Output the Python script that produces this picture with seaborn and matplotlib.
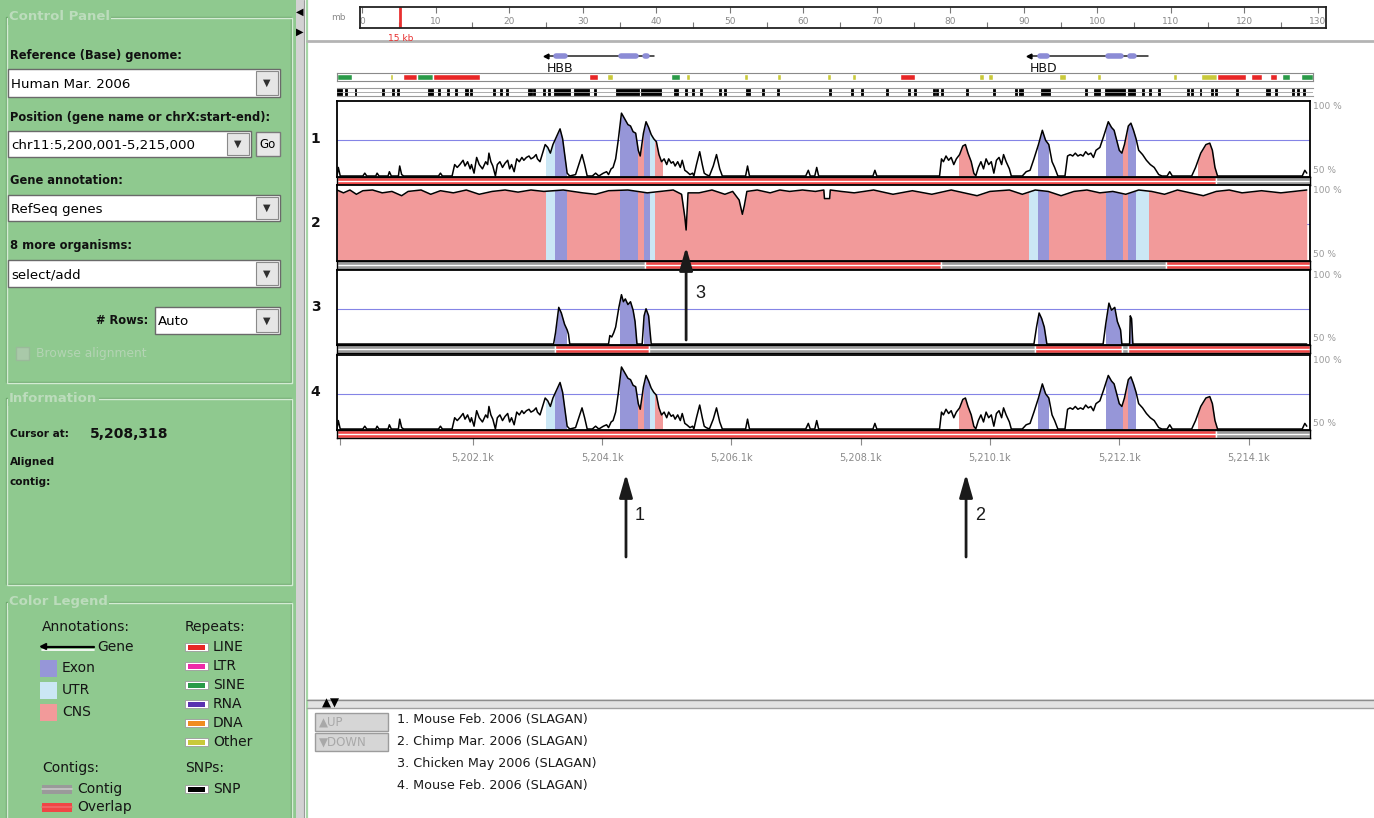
import matplotlib
matplotlib.use("Agg")
import matplotlib.pyplot as plt
from matplotlib.patches import Rectangle
from matplotlib.transforms import blended_transform_factory
import seaborn as sns

# ---------------- data (positions in kb on chr11) ----------------
X0, X1 = 5200.0, 5215.05

# mouse (tracks 1 and 4), % identity in a sliding window
mouse_kb = [5200.00, 5200.02, 5200.05, 5200.40, 5200.43, 5200.46, 5200.60, 5200.62,
            5200.65, 5200.79, 5200.81, 5200.84, 5200.95, 5200.97, 5201.00, 5201.03,
            5201.57, 5201.60, 5201.63, 5201.78, 5201.82, 5201.86, 5201.90, 5201.95,
            5201.98, 5202.02, 5202.06, 5202.08, 5202.12, 5202.16, 5202.20, 5202.25,
            5202.30, 5202.33, 5202.35, 5202.38, 5202.41, 5202.45, 5202.48, 5202.52,
            5202.56, 5202.60, 5202.64, 5202.67, 5202.70, 5202.74, 5202.78, 5202.82,
            5202.86, 5202.89, 5202.93, 5202.97, 5203.00, 5203.04, 5203.08, 5203.10,
            5203.14, 5203.18, 5203.22, 5203.26, 5203.30, 5203.34, 5203.40, 5203.45,
            5203.49, 5203.53, 5203.56, 5203.60, 5203.69, 5203.74, 5203.79, 5203.83,
            5203.87, 5203.95, 5204.00, 5204.05, 5204.12, 5204.17, 5204.20, 5204.24,
            5204.27, 5204.31, 5204.35, 5204.40, 5204.45, 5204.50, 5204.54, 5204.58,
            5204.62, 5204.66, 5204.69, 5204.74, 5204.78, 5204.82, 5204.86, 5204.90,
            5204.94, 5204.98, 5205.02, 5205.06, 5205.10, 5205.13, 5205.17, 5205.20,
            5205.23, 5205.27, 5205.31, 5205.34, 5205.38, 5205.41, 5205.46, 5205.50,
            5205.52, 5205.56, 5205.61, 5205.65, 5205.68, 5205.71, 5205.76, 5205.82,
            5205.87, 5205.92, 5205.96, 5206.32, 5206.35, 5206.38, 5207.25, 5207.29,
            5207.32, 5207.39, 5207.42, 5207.45, 5208.29, 5208.32, 5208.35, 5209.32,
            5209.35, 5209.38, 5209.42, 5209.46, 5209.50, 5209.54, 5209.58, 5209.63,
            5209.68, 5209.72, 5209.76, 5209.81, 5209.85, 5209.88, 5209.92, 5209.96,
            5210.00, 5210.04, 5210.08, 5210.12, 5210.16, 5210.20, 5210.24, 5210.28,
            5210.31, 5210.35, 5210.40, 5210.43, 5210.60, 5210.66, 5210.72, 5210.78,
            5210.85, 5210.91, 5210.96, 5211.01, 5211.06, 5211.10, 5211.15, 5211.26,
            5211.30, 5211.34, 5211.38, 5211.42, 5211.46, 5211.50, 5211.54, 5211.58,
            5211.62, 5211.66, 5211.70, 5211.74, 5211.80, 5211.86, 5211.93, 5211.98,
            5212.02, 5212.06, 5212.10, 5212.14, 5212.18, 5212.24, 5212.28, 5212.32,
            5212.36, 5212.40, 5212.46, 5212.52, 5212.58, 5212.64, 5212.71, 5212.76,
            5212.84, 5212.88, 5212.92, 5213.22, 5213.28, 5213.36, 5213.44, 5213.50,
            5213.54, 5213.58, 5213.62, 5214.93, 5214.97, 5215.00]
mouse_pct = [50, 56, 50, 50, 52, 50, 50, 52,
             50, 50, 53, 50, 50, 57, 51, 50,
             50, 52, 50, 50, 58, 56, 58, 61,
             57, 60, 55, 58, 52, 63, 58, 55,
             60, 58, 66, 60, 57, 50, 58, 60,
             56, 59, 61, 55, 58, 53, 62, 60,
             63, 61, 63, 64, 62, 63, 65, 62,
             60, 66, 72, 70, 66, 72, 78, 83,
             76, 62, 52, 50, 51, 58, 65, 58,
             50, 50, 52, 50, 52, 53, 51, 55,
             56, 62, 75, 94, 90, 86, 85, 81,
             80, 68, 64, 80, 88, 84, 79, 76,
             74, 65, 60, 62, 58, 62, 59, 60,
             57, 60, 56, 61, 54, 53, 51, 52,
             50, 58, 67, 58, 52, 51, 50, 57,
             65, 55, 50, 50, 57, 50, 50, 54,
             50, 50, 56, 50, 50, 54, 50, 50,
             62, 60, 64, 61, 63, 58, 62, 65,
             71, 72, 66, 60, 52, 50, 56, 60,
             55, 62, 58, 60, 52, 61, 63, 58,
             65, 60, 55, 50, 50, 53, 54, 62,
             72, 82, 75, 72, 60, 56, 50, 50,
             64, 65, 64, 66, 64, 65, 64, 67,
             65, 66, 63, 68, 70, 78, 88, 84,
             82, 75, 68, 66, 72, 85, 87, 82,
             76, 68, 65, 61, 58, 56, 51, 50,
             50, 53, 50, 50, 56, 66, 72, 73,
             68, 56, 50, 50, 54, 52]

# chimp (track 2)
chimp_kb = [5200.00, 5200.10, 5200.20, 5200.30, 5200.40, 5200.55, 5200.70, 5200.85,
            5201.00, 5201.10, 5201.30, 5201.45, 5201.60, 5201.80, 5202.00, 5202.20,
            5202.40, 5202.60, 5202.80, 5203.00, 5203.20, 5203.50, 5203.80, 5204.00,
            5204.20, 5204.50, 5204.80, 5205.00, 5205.20, 5205.33, 5205.38, 5205.40,
            5205.43, 5205.60, 5205.80, 5206.00, 5206.12, 5206.22, 5206.27, 5206.30,
            5206.34, 5206.50, 5206.70, 5206.85, 5207.00, 5207.20, 5207.40, 5207.53,
            5207.54, 5207.62, 5207.63, 5207.80, 5208.00, 5208.30, 5208.60, 5208.90,
            5209.20, 5209.50, 5209.70, 5209.90, 5210.10, 5210.40, 5210.60, 5210.80,
            5211.00, 5211.20, 5211.40, 5211.60, 5211.80, 5212.00, 5212.20, 5212.40,
            5212.60, 5212.80, 5213.00, 5213.20, 5213.40, 5213.60, 5213.80, 5214.00,
            5214.30, 5214.60, 5215.00]
chimp_pct = [99, 97, 99, 96, 98.5, 99, 97, 98,
             95, 98, 99, 96, 98.5, 97, 99, 96,
             98, 99, 97.5, 99, 98, 99, 97, 96,
             98.5, 99, 97, 98, 99, 96, 80, 71,
             97, 97, 99, 96, 98, 92, 82, 88,
             98, 99, 97, 99, 98, 99, 98, 99,
             93, 93, 99, 98, 97, 99, 96, 98.5,
             96, 99, 97, 95, 98, 99, 96, 99,
             98, 95, 98, 99, 97, 98, 96, 99,
             98, 96, 99, 97, 95, 98, 99, 97,
             98.5, 97, 99]

# chicken (track 3)
chicken_kb = [5200.00, 5203.35, 5203.38, 5203.43, 5203.47, 5203.52, 5203.56, 5203.58,
              5203.60, 5204.20, 5204.22, 5204.25, 5204.28, 5204.31, 5204.36, 5204.40,
              5204.43, 5204.46, 5204.50, 5204.54, 5204.58, 5204.61, 5204.64, 5204.72,
              5204.75, 5204.78, 5204.82, 5204.86, 5210.78, 5210.82, 5210.86, 5210.90,
              5210.94, 5210.98, 5211.85, 5211.89, 5211.94, 5211.98, 5212.03, 5212.07,
              5212.12, 5212.14, 5212.26, 5212.27, 5212.29, 5212.31, 5215.00]
chicken_pct = [50, 50, 58, 76, 72, 64, 60, 57,
               50, 50, 56, 55, 58, 62, 76, 85,
               80, 82, 78, 80, 74, 66, 50, 50,
               70, 75, 70, 50, 50, 62, 72, 68,
               62, 50, 50, 64, 79, 74, 76, 66,
               60, 50, 50, 70, 68, 50, 50]

# gene annotation (RefSeq)
gene_names = ['HBB', 'HBD']
gene_start = [5203.23, 5210.70]
gene_end = [5204.90, 5212.55]
exon_start = [5203.37, 5204.37, 5204.75, 5210.85, 5211.90, 5212.24]
exon_end = [5203.54, 5204.64, 5204.82, 5211.00, 5212.14, 5212.35]
utr_start = [5203.23, 5204.82, 5210.70, 5212.35]
utr_end = [5203.37, 5204.90, 5210.85, 5212.55]

# conserved non-coding / UTR segments coloured per track
mouse_cns_start = [5204.64, 5204.90, 5209.62, 5212.14, 5213.32]
mouse_cns_end = [5204.75, 5205.03, 5209.84, 5212.24, 5213.59]
mouse_utr_start = [5203.23, 5204.82]
mouse_utr_end = [5203.37, 5204.90]
chimp_cns_start = [5200.00]
chimp_cns_end = [5215.05]

# contig bars below each track
mouse_contig_start = [5200.00, 5213.59]
mouse_contig_end = [5213.59, 5215.05]
mouse_contig_kind = ['Overlap', 'Contig']
chimp_contig_start = [5200.00, 5204.76, 5209.35, 5212.82]
chimp_contig_end = [5204.76, 5209.35, 5212.82, 5215.05]
chimp_contig_kind = ['Contig', 'Overlap', 'Contig', 'Overlap']
chicken_contig_start = [5200.00, 5203.37, 5204.82, 5210.80, 5212.14, 5212.24]
chicken_contig_end = [5203.37, 5204.82, 5210.80, 5212.14, 5212.24, 5215.05]
chicken_contig_kind = ['Contig', 'Overlap', 'Contig', 'Overlap', 'Contig', 'Overlap']

# repeats
rep_start = [5200.00, 5200.81, 5201.02, 5201.23, 5201.48, 5203.88, 5204.17, 5205.15,
             5205.38, 5206.27, 5206.78, 5207.55, 5207.94, 5208.68, 5209.90, 5210.04,
             5211.13, 5211.72, 5212.89, 5213.33, 5213.57, 5214.10, 5214.38, 5214.57,
             5214.86]
rep_end = [5200.23, 5200.86, 5201.23, 5201.48, 5202.21, 5204.02, 5204.25, 5205.29,
           5205.44, 5206.33, 5206.84, 5207.61, 5208.00, 5208.91, 5209.97, 5210.11,
           5211.24, 5211.78, 5212.95, 5213.57, 5214.02, 5214.27, 5214.49, 5214.70,
           5215.05]
rep_type = ['SINE', 'Other', 'LINE', 'SINE', 'LINE', 'LINE', 'Other', 'SINE',
            'Other', 'Other', 'Other', 'Other', 'Other', 'LINE', 'Other', 'Other',
            'Other', 'Other', 'Other', 'Other', 'LINE', 'LINE', 'LINE', 'SINE',
            'SINE']

# SNPs
snp_start = [5200.00, 5200.12, 5200.27, 5200.69, 5200.85, 5200.92, 5201.40, 5201.56,
             5201.70, 5201.82, 5201.98, 5202.05, 5202.41, 5202.52, 5202.60, 5202.94,
             5202.98, 5203.03, 5203.17, 5203.25, 5203.35, 5203.65, 5203.96, 5204.30,
             5204.69, 5205.20, 5205.23, 5205.37, 5205.48, 5205.60, 5205.89, 5205.97,
             5206.30, 5206.56, 5206.78, 5207.58, 5207.92, 5208.08, 5208.46, 5208.80,
             5208.90, 5209.19, 5209.24, 5209.32, 5209.70, 5210.11, 5210.45, 5210.51,
             5210.55, 5210.85, 5211.53, 5211.68, 5211.84, 5212.20, 5212.41, 5212.52,
             5212.66, 5213.11, 5213.17, 5213.30, 5213.48, 5213.54, 5213.87, 5214.32,
             5214.46, 5214.72, 5214.81, 5214.89]
snp_end = [5200.08, 5200.15, 5200.30, 5200.72, 5200.88, 5200.95, 5201.48, 5201.59,
           5201.73, 5201.85, 5202.02, 5202.08, 5202.44, 5202.55, 5202.63, 5202.97,
           5203.01, 5203.06, 5203.20, 5203.28, 5203.60, 5203.88, 5203.99, 5204.66,
           5205.00, 5205.22, 5205.26, 5205.40, 5205.51, 5205.63, 5205.92, 5206.00,
           5206.37, 5206.59, 5206.81, 5207.61, 5207.95, 5208.11, 5208.49, 5208.83,
           5208.93, 5209.22, 5209.27, 5209.35, 5209.73, 5210.14, 5210.48, 5210.54,
           5210.58, 5210.99, 5211.56, 5211.76, 5212.15, 5212.30, 5212.44, 5212.55,
           5212.69, 5213.14, 5213.20, 5213.33, 5213.51, 5213.57, 5213.90, 5214.39,
           5214.49, 5214.75, 5214.84, 5214.92]

# chromosome ruler (Mb)
ruler_ticks = [0, 10, 20, 30, 40, 50, 60, 70, 80, 90, 100, 110, 120, 130]
ruler_minor = [5, 15, 25, 35, 45, 55, 65, 75, 85, 95, 105, 115, 125]
window_mb = 5.2

# position axis
tick_kb = [5200.05, 5202.1, 5204.1, 5206.1, 5208.1, 5210.1, 5212.1, 5214.1]
tick_labels = ['', '5,202.1k', '5,204.1k', '5,206.1k', '5,208.1k', '5,210.1k',
               '5,212.1k', '5,214.1k']

organisms = ['1. Mouse Feb. 2006 (SLAGAN)', '2. Chimp Mar. 2006 (SLAGAN)',
             '3. Chicken May 2006 (SLAGAN)', '4. Mouse Feb. 2006 (SLAGAN)']

# figure-callout arrows
arrow_kb = [5204.47, 5209.73, 5205.40]
arrow_labels = ['1', '2', '3']

# ---------------- style ----------------
EXON = '#9696d8'
UTR = '#cbe7f5'
CNS = '#f29a9a'
GREEN = '#8fc98f'
REPEAT_COLORS = {'LINE': '#e82626', 'LTR': '#ee2aa8', 'SINE': '#2a9a48',
                 'RNA': '#5a30b0', 'DNA': '#f08c20', 'Other': '#c9c93a'}
CONTIG_COLORS = {'Contig': ('#9a9a9a', '#c8c8c8'), 'Overlap': ('#f04646', '#f26a6a')}

sns.set_theme(style="white")
plt.rcParams['font.family'] = ['DejaVu Sans']

W, H = 1374, 818
fig = plt.figure(figsize=(W / 100, H / 100), dpi=100)
fig.patch.set_facecolor('white')


def px_axes(x0, y0, x1, y1):
    return fig.add_axes([x0 / W, 1 - y1 / H, (x1 - x0) / W, (y1 - y0) / H])


def clean(ax):
    ax.set_xticks([])
    ax.set_yticks([])
    ax.set_xlabel('')
    ax.set_ylabel('')


# ---------------- window chrome (left control panel etc.) ----------------
ui = px_axes(0, 0, W, H)
ui.set_xlim(0, W)
ui.set_ylim(H, 0)
ui.axis('off')

ui.add_patch(Rectangle((0, 0), 296, H, fc=GREEN, ec='none'))
ui.add_patch(Rectangle((296, 0), 8, H, fc='#d2d2d2', ec='none'))
ui.plot([304, 304], [0, H], color='#9a9a9a', lw=0.8)
ui.plot([306.5, 306.5], [0, H], color='#a6d6a6', lw=1.6)
ui.text(300, 12, '◀', ha='center', va='center', fontsize=7, color='black')
ui.text(300, 32, '▶', ha='center', va='center', fontsize=7, color='black')


def groupbox(y0, y1, title):
    ui.add_patch(Rectangle((6, y0), 285, y1 - y0, fc='none', ec='#6ea86e', lw=1))
    ui.add_patch(Rectangle((7, y0 + 1), 285, y1 - y0, fc='none', ec='#d4ebd4', lw=1))
    ui.text(9, y0, title, ha='left', va='center', fontsize=9.5, fontweight='bold',
            color='#bcdcbc', bbox=dict(fc=GREEN, ec='none', pad=1))


groupbox(17, 382, 'Control Panel')
groupbox(398, 584, 'Information')
groupbox(602, 830, 'Color Legend')


def combo(x0, y0, x1, y1, text):
    ui.add_patch(Rectangle((x0, y0), x1 - x0, y1 - y0, fc='white', ec='#6a6a6a', lw=1))
    ui.add_patch(Rectangle((x1 - 24, y0 + 2), 22, y1 - y0 - 4, fc='#e6e6e6',
                           ec='#8a8a8a', lw=0.8))
    ui.text(x1 - 13, (y0 + y1) / 2, '▼', ha='center', va='center', fontsize=7,
            color='#303030')
    ui.text(x0 + 3, (y0 + y1) / 2 + 1, text, ha='left', va='center', fontsize=9.6,
            color='black')


label_kw = dict(ha='left', va='center', fontsize=8.3, fontweight='bold', color='#111111')
ui.text(10, 55, 'Reference (Base) genome:', **label_kw)
combo(8, 69, 280, 97, 'Human Mar. 2006')
ui.text(10, 117, 'Position (gene name or chrX:start-end):', **label_kw)
combo(8, 131, 251, 157, 'chr11:5,200,001-5,215,000')
ui.add_patch(Rectangle((256, 132), 24, 24, fc='#e8e8e8', ec='#7a7a7a', lw=1))
ui.text(268, 144, 'Go', ha='center', va='center', fontsize=8.5, color='black')
ui.text(10, 181, 'Gene annotation:', **label_kw)
combo(8, 195, 280, 221, 'RefSeq genes')
ui.text(10, 245, '8 more organisms:', **label_kw)
combo(8, 260, 280, 287, 'select/add')
ui.text(148, 321, '# Rows:', ha='right', va='center', fontsize=8.3, fontweight='bold',
        color='#111111')
combo(155, 307, 280, 334, 'Auto')
ui.add_patch(Rectangle((16, 347), 13, 13, fc='#a9c9a9', ec='#9aba9a', lw=1))
ui.text(36, 354, 'Browse alignment', ha='left', va='center', fontsize=8.8,
        color='#b4d4b4')

ui.text(10, 434, 'Cursor at:', ha='left', va='center', fontsize=7.6, fontweight='bold',
        color='#111111')
ui.text(90, 434, '5,208,318', ha='left', va='center', fontsize=10, fontweight='bold',
        color='#111111')
ui.text(10, 462, 'Aligned', ha='left', va='center', fontsize=7.6, fontweight='bold',
        color='#111111')
ui.text(10, 482, 'contig:', ha='left', va='center', fontsize=7.6, fontweight='bold',
        color='#111111')

# colour legend
leg_kw = dict(ha='left', va='center', fontsize=10, color='#151515')
ui.text(42, 627, 'Annotations:', **leg_kw)
ui.plot([42, 94], [647, 647], color='black', lw=1.6)
ui.plot([42, 94], [649.5, 649.5], color='white', lw=1.2)
ui.plot([43], [646], marker='<', ms=4.5, color='black')
ui.text(97, 647, 'Gene', **leg_kw)
for y, c, t in zip([668, 690, 712], [EXON, UTR, CNS], ['Exon', 'UTR', 'CNS']):
    ui.add_patch(Rectangle((40, y - 8), 17, 17, fc=c, ec='none'))
    ui.text(62, y, t, **leg_kw)

ui.text(185, 627, 'Repeats:', **leg_kw)
for y, t in zip([647, 666, 685, 704, 723, 742], ['LINE', 'LTR', 'SINE', 'RNA', 'DNA', 'Other']):
    ui.add_patch(Rectangle((185, y - 4), 23, 8, fc='white', ec='#9a9a9a', lw=0.6))
    ui.add_patch(Rectangle((188, y - 2.5), 17, 5, fc=REPEAT_COLORS[t], ec='none'))
    ui.text(213, y, t, **leg_kw)

ui.text(42, 768, 'Contigs:', **leg_kw)
for y, k in zip([789, 807], ['Contig', 'Overlap']):
    base, hi = CONTIG_COLORS[k]
    ui.add_patch(Rectangle((42, y - 4.5), 30, 9, fc=base, ec='none'))
    ui.plot([42, 72], [y, y], color=hi, lw=1.2)
    ui.text(77, y, k, **leg_kw)
ui.text(185, 768, 'SNPs:', **leg_kw)
ui.add_patch(Rectangle((185, 785), 23, 8, fc='white', ec='#9a9a9a', lw=0.6))
ui.add_patch(Rectangle((188, 786.5), 17, 5, fc='black', ec='none'))
ui.text(213, 789, 'SNP', **leg_kw)

# separators in the browser pane
ui.plot([307, W], [41, 41], color='#b4b4b4', lw=2)
ui.add_patch(Rectangle((307, 699), W - 307, 9, fc='#e2e2e2', ec='none'))
ui.plot([307, W], [699.5, 699.5], color='#8c8c8c', lw=1)
ui.plot([307, W], [708, 708], color='#a0a0a0', lw=1)
ui.text(331, 703, '▲▼', ha='center', va='center', fontsize=8.5, color='black')
for y, t in zip([722, 742], ['▲UP', '▼DOWN']):
    ui.add_patch(Rectangle((315, y - 9), 73, 18, fc='#d6d6d6', ec='#9c9c9c', lw=1))
    ui.text(319, y, t, ha='left', va='center', fontsize=8.5, color='#a8a8a8')
for y, t in zip([720, 742, 764, 786], organisms):
    ui.text(397, y, t, ha='left', va='center', fontsize=9.2, color='#1a1a1a')

# ---------------- chromosome ruler ----------------
ruler = px_axes(360, 7, 1326, 28)
ruler.set_xlim(-0.3, 131.1)
ruler.set_ylim(0, 1)
ruler.set_yticks([])
ruler.set_xticks(ruler_ticks, [str(t) for t in ruler_ticks])
ruler.set_xticks(ruler_minor, minor=True)
ruler.tick_params(axis='x', which='major', top=True, bottom=False, labeltop=True,
                  labelbottom=False, direction='in', length=4, width=0.8, color='#777777',
                  pad=-14, labelsize=6.5, labelcolor='#8a8a8a')
ruler.tick_params(axis='x', which='minor', top=False, bottom=True, direction='in',
                  length=4, width=0.8, color='#777777')
for sp in ruler.spines.values():
    sp.set_color('#222222')
    sp.set_linewidth(1.3)
ruler.axvline(window_mb, color='#e83030', lw=2)
ruler.text(window_mb, -0.28, '15 kb', ha='center', va='top', fontsize=6.5, color='#e83030')
ruler.text(-0.015, 0.5, 'mb', transform=ruler.transAxes, ha='right', va='center',
           fontsize=6.5, color='#8a8a8a')

# ---------------- gene track ----------------
gax = px_axes(337, 46, 1310, 74)
gax.set_xlim(X0, X1)
gax.set_ylim(0, 1)
gax.axis('off')
for name, s, e in zip(gene_names, gene_start, gene_end):
    gax.plot([s, e], [0.64, 0.64], color='#222222', lw=1.1)
    gax.plot([s], [0.66], marker='<', ms=3.5, color='black')
    gax.text(s + 0.02, 0.2, name, ha='left', va='center', fontsize=9, color='#111111')
for s, e in zip(exon_start, exon_end):
    gax.plot([s + 0.02, e - 0.02], [0.64, 0.64], color='#8c8cd6', lw=4,
             solid_capstyle='round')

# ---------------- repeats track ----------------
rax = px_axes(337, 73, 1313, 81)
rax.set_xlim(X0, X1)
rax.set_ylim(0, 1)
clean(rax)
for s, e, t in zip(rep_start, rep_end, rep_type):
    rax.broken_barh([(s, e - s)], (0.08, 0.84), facecolors=REPEAT_COLORS[t])
for sp in rax.spines.values():
    sp.set_color('#8a8a8a')
    sp.set_linewidth(0.8)

# ---------------- SNP track ----------------
sax = px_axes(337, 88, 1313, 96)
sax.set_xlim(X0, X1)
sax.set_ylim(0, 1)
clean(sax)
sax.axhline(0.5, color='#a0a0a0', lw=0.6)
for s, e in zip(snp_start, snp_end):
    sax.broken_barh([(s, e - s)], (0.08, 0.84), facecolors='black', edgecolors='black',
                    linewidth=0.6)
for k, sp in sax.spines.items():
    sp.set_color('#9a9a9a')
    sp.set_linewidth(0.8)
    sp.set_visible(k in ('top', 'bottom'))

# ---------------- conservation tracks ----------------
tracks = [
    dict(kb=mouse_kb, pct=mouse_pct, cns=(mouse_cns_start, mouse_cns_end),
         utr=(mouse_utr_start, mouse_utr_end),
         contig=(mouse_contig_start, mouse_contig_end, mouse_contig_kind)),
    dict(kb=chimp_kb, pct=chimp_pct, cns=(chimp_cns_start, chimp_cns_end),
         utr=(utr_start, utr_end),
         contig=(chimp_contig_start, chimp_contig_end, chimp_contig_kind)),
    dict(kb=chicken_kb, pct=chicken_pct, cns=([], []), utr=([], []),
         contig=(chicken_contig_start, chicken_contig_end, chicken_contig_kind)),
    dict(kb=mouse_kb, pct=mouse_pct, cns=(mouse_cns_start, mouse_cns_end),
         utr=(mouse_utr_start, mouse_utr_end),
         contig=(mouse_contig_start, mouse_contig_end, mouse_contig_kind)),
]
track_rows = [(101, 177, 185), (185, 261, 269), (270, 345, 353), (355, 430, 438)]


def shade(ax, kb, pct, lo, hi, color):
    coll = ax.fill_between(kb, 50, pct, color=color, lw=0, zorder=1.5)
    coll.set_clip_path(Rectangle((lo, 0), hi - lo, 200, transform=ax.transData))


for i, (trk, (top, mid, bot)) in enumerate(zip(tracks, track_rows)):
    ax = px_axes(337, top, 1310, mid)
    ax.set_facecolor('white')
    ax.set_xlim(X0, X1)
    ax.set_ylim(49.3, 102.5)
    ax.axhline(75, color='#8484e6', lw=0.8, zorder=1)
    for s, e in zip(*trk['cns']):
        shade(ax, trk['kb'], trk['pct'], s, e, CNS)
    for s, e in zip(*trk['utr']):
        shade(ax, trk['kb'], trk['pct'], s, e, UTR)
    for s, e in zip(exon_start, exon_end):
        shade(ax, trk['kb'], trk['pct'], s, e, EXON)
    sns.lineplot(x=trk['kb'], y=trk['pct'], ax=ax, color='black', lw=1.1,
                 estimator=None, sort=False, zorder=3)
    clean(ax)
    for sp in ax.spines.values():
        sp.set_color('black')
        sp.set_linewidth(1.3)
    ax.text(1.003, 0.93, '100 %', transform=ax.transAxes, ha='left', va='center',
            fontsize=6.5, color='#9a9a9a')
    ax.text(1.003, 0.09, '50 %', transform=ax.transAxes, ha='left', va='center',
            fontsize=6.5, color='#9a9a9a')
    ax.text(-0.022, 0.5, str(i + 1), transform=ax.transAxes, ha='center', va='center',
            fontsize=10, fontweight='bold', color='#111111')

    cax = px_axes(337, mid, 1310, bot)
    cax.set_xlim(X0, X1)
    cax.set_ylim(0, 1)
    for s, e, k in zip(*trk['contig']):
        base, hi = CONTIG_COLORS[k]
        cax.broken_barh([(s, e - s)], (0, 1), facecolors=base)
        cax.broken_barh([(s, e - s)], (0.45, 0.1), facecolors=hi)
    clean(cax)
    for sp in cax.spines.values():
        sp.set_color('black')
        sp.set_linewidth(1.0)
    if i == 3:
        cax.set_xticks(tick_kb, tick_labels)
        cax.tick_params(axis='x', bottom=True, length=5, width=0.8, color='#8a8a8a',
                        labelsize=7, labelcolor='#8a8a8a', pad=6)
        ref_ax = ax

# ---------------- callout arrows ----------------
ov = px_axes(0, 0, W, H)
ov.set_xlim(0, W)
ov.set_ylim(H, 0)
ov.axis('off')
tr = blended_transform_factory(ref_ax.transData, ov.transData)
arrow_rows = [(557, 474), (557, 474), (340, 247)]
for kb, lab, (y_tail, y_head) in zip(arrow_kb, arrow_labels, arrow_rows):
    ov.annotate('', xy=(kb, y_head), xytext=(kb, y_tail), xycoords=tr, textcoords=tr,
                arrowprops=dict(arrowstyle='-|>,head_length=0.7,head_width=0.2',
                                color='#1a1a1a', lw=2.0, mutation_scale=20,
                                shrinkA=0, shrinkB=0), annotation_clip=False)
    ov.annotate(lab, xy=(kb, (y_tail + y_head) / 2), xycoords=tr, xytext=(10, 0),
                textcoords='offset points', ha='center', va='center', fontsize=13,
                color='#1a1a1a', family=['Liberation Sans', 'DejaVu Sans'])

fig.savefig('out.png', dpi=100, facecolor='white')
